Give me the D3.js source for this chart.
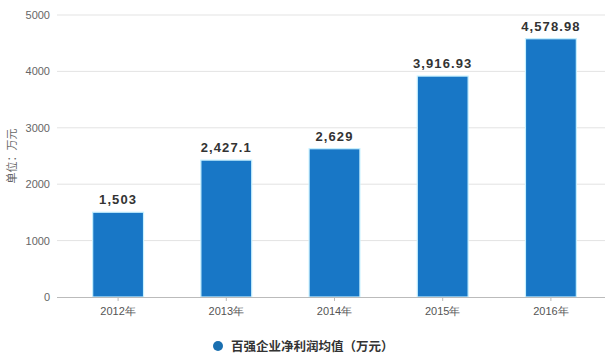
<!DOCTYPE html>
<html>
<head>
<meta charset="utf-8">
<script src="https://cdn.jsdelivr.net/npm/d3@7"></script>
<style>
  body { margin: 0; background: #fff; }
  svg { display: block; font-family: "Noto Sans CJK SC", "Noto Sans", sans-serif; }
</style>
</head>
<body>
<div id="chart"></div>
<script>
// données
const years = ["2012年", "2013年", "2014年", "2015年", "2016年"];
const values = [1503, 2427.1, 2629, 3916.93, 4578.98];
const labels = ["1,503", "2,427.1", "2,629", "3,916.93", "4,578.98"];
const yTicks = [0, 1000, 2000, 3000, 4000, 5000];
const seriesName = "百强企业净利润均值（万元）";

const W = 616, H = 362;
const svg = d3.select("#chart").append("svg")
    .attr("width", W).attr("height", H);

const x = d3.scaleBand().domain(years).range([64, 605]).paddingInner(0.53).paddingOuter(0.265);
const y = d3.scaleLinear().domain([0, 5000]).range([297, 15]);

// grille
svg.append("g").selectAll("line")
    .data(yTicks.filter(d => d > 0))
    .join("line")
    .attr("x1", 57).attr("x2", 605)
    .attr("y1", d => y(d)).attr("y2", d => y(d))
    .attr("stroke", "#e3e3e3").attr("stroke-width", 1);

// axe y
const yAxis = svg.append("g")
    .attr("transform", "translate(57,0)")
    .call(d3.axisLeft(y).tickValues(yTicks).tickSize(0).tickPadding(7).tickFormat(d3.format("d")));
yAxis.select(".domain").remove();
yAxis.selectAll("text").attr("fill", "#666").style("font-size", "11px").style("font-family", "Liberation Sans, sans-serif");

// barres
svg.append("g").selectAll("rect")
    .data(values)
    .join("rect")
    .attr("x", (d, i) => x(years[i]))
    .attr("y", d => y(d))
    .attr("width", x.bandwidth())
    .attr("height", d => y(0) - y(d))
    .attr("fill", "#1877c6")
    .attr("stroke", "#c8f1ff")
    .attr("stroke-width", 1.2);

// étiquettes des valeurs
svg.append("g").selectAll("text")
    .data(values)
    .join("text")
    .attr("x", (d, i) => x(years[i]) + x.bandwidth() / 2)
    .attr("y", d => y(d) - 8)
    .attr("text-anchor", "middle")
    .attr("fill", "#333")
    .style("font-size", "13px")
    .style("font-weight", "bold")
    .style("letter-spacing", "1.1px")
    .style("font-family", "Liberation Sans, sans-serif")
    .text((d, i) => labels[i]);

// axe x
const xAxis = svg.append("g")
    .attr("transform", `translate(0,${y(0)})`)
    .call(d3.axisBottom(x).tickSize(4).tickPadding(6));
xAxis.select(".domain").attr("d", `M57,0.5H605`).attr("stroke", "#bbb");
xAxis.selectAll(".tick line").attr("stroke", "#bbb");
xAxis.selectAll("text").attr("fill", "#555").style("font-size", "11px");

// titre de l'axe y
svg.append("text")
    .attr("transform", "translate(16,156) rotate(-90)")
    .attr("text-anchor", "middle")
    .attr("fill", "#666")
    .style("font-size", "11px")
    .text("单位：万元");

// légende
const leg = svg.append("g").attr("transform", "translate(218,346)");
leg.append("circle").attr("r", 5).attr("fill", "#1a6fb0");
leg.append("text")
    .attr("x", 13).attr("y", 4.5)
    .attr("fill", "#333")
    .style("font-size", "12.5px")
    .style("font-weight", "bold")
    .text(seriesName);
</script>
</body>
</html>
